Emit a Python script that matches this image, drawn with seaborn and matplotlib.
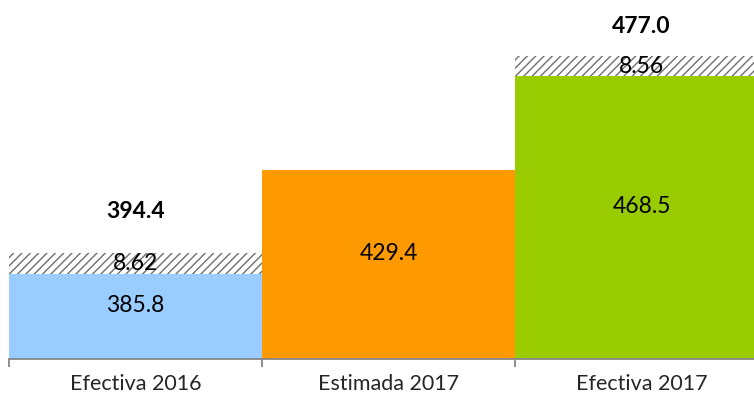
import matplotlib
matplotlib.use("Agg")
import matplotlib.pyplot as plt
import seaborn as sns
import pandas as pd

# ---- data ----
categories = ["Efectiva 2016", "Estimada 2017", "Efectiva 2017"]
base_values = [385.8, 429.4, 468.5]
adjust_values = [8.62, 0.0, 8.56]
total_labels = ["394.4", "", "477.0"]

# ---- style ----
bar_colors = ["#99CCFF", "#FF9900", "#99CC00"]
total_offsets_px = [42, 0, 29]
inner_offset_px = 11

sns.set_theme(style="white")
plt.rcParams["font.family"] = ["Lato", "DejaVu Sans"]
plt.rcParams["hatch.linewidth"] = 1.0
plt.rcParams["hatch.color"] = "#6e6e6e"

df = pd.DataFrame({
    "cat": categories,
    "base": base_values,
    "adj": adjust_values,
})
df["top"] = df["base"] + df["adj"]

fig = plt.figure(figsize=(7.54, 4.0), dpi=100)
ax = fig.add_axes([9 / 754, 41 / 400, 759 / 754, 359 / 400])

# hatched adjustment (drawn as full-height bars, covered by base)
sns.barplot(data=df, x="cat", y="top", ax=ax, color="white", width=1.0,
            edgecolor="#6e6e6e", linewidth=0, hatch="////", saturation=1)
sns.barplot(data=df, x="cat", y="base", hue="cat", palette=bar_colors,
            ax=ax, width=1.0, linewidth=0, saturation=1, legend=False)

ymin = 350
ax.set_ylim(ymin, ymin + 359 / 2.385)
ax.set_xlim(-0.5, 2.5)

px2pt = 72 / fig.dpi
for i, (b, a, t) in enumerate(zip(base_values, adjust_values, total_labels)):
    ax.annotate(f"{b:.1f}", xy=(i, (ymin + b) / 2), xytext=(0, inner_offset_px * px2pt),
                textcoords="offset points", ha="center", va="center",
                fontsize=16.5, color="black")
    if a > 0:
        ax.annotate(f"{a:.2f}", xy=(i, b + a / 2), ha="center", va="center",
                    fontsize=16.5, color="black")
        ax.annotate(t, xy=(i, b + a), xytext=(0, total_offsets_px[i] * px2pt),
                    textcoords="offset points", ha="center", va="center",
                    fontsize=16.5, fontweight="bold", color="black")

ax.set_xlabel("")
ax.set_ylabel("")
ax.set_yticks([])
ax.set_xticks(range(len(categories)))
ax.set_xticklabels(categories, fontsize=15.5)
ax.tick_params(axis="x", which="major", length=0, pad=11, bottom=False)
ax.set_xticks([-0.5, 0.5, 1.5, 2.5], minor=True)
ax.tick_params(axis="x", which="minor", length=6, width=1.3, color="#868686",
               direction="out", bottom=True)
for s in ["left", "right", "top"]:
    ax.spines[s].set_visible(False)
ax.spines["bottom"].set_color("#868686")
ax.spines["bottom"].set_linewidth(1.3)

fig.savefig("out.png", dpi=100)
